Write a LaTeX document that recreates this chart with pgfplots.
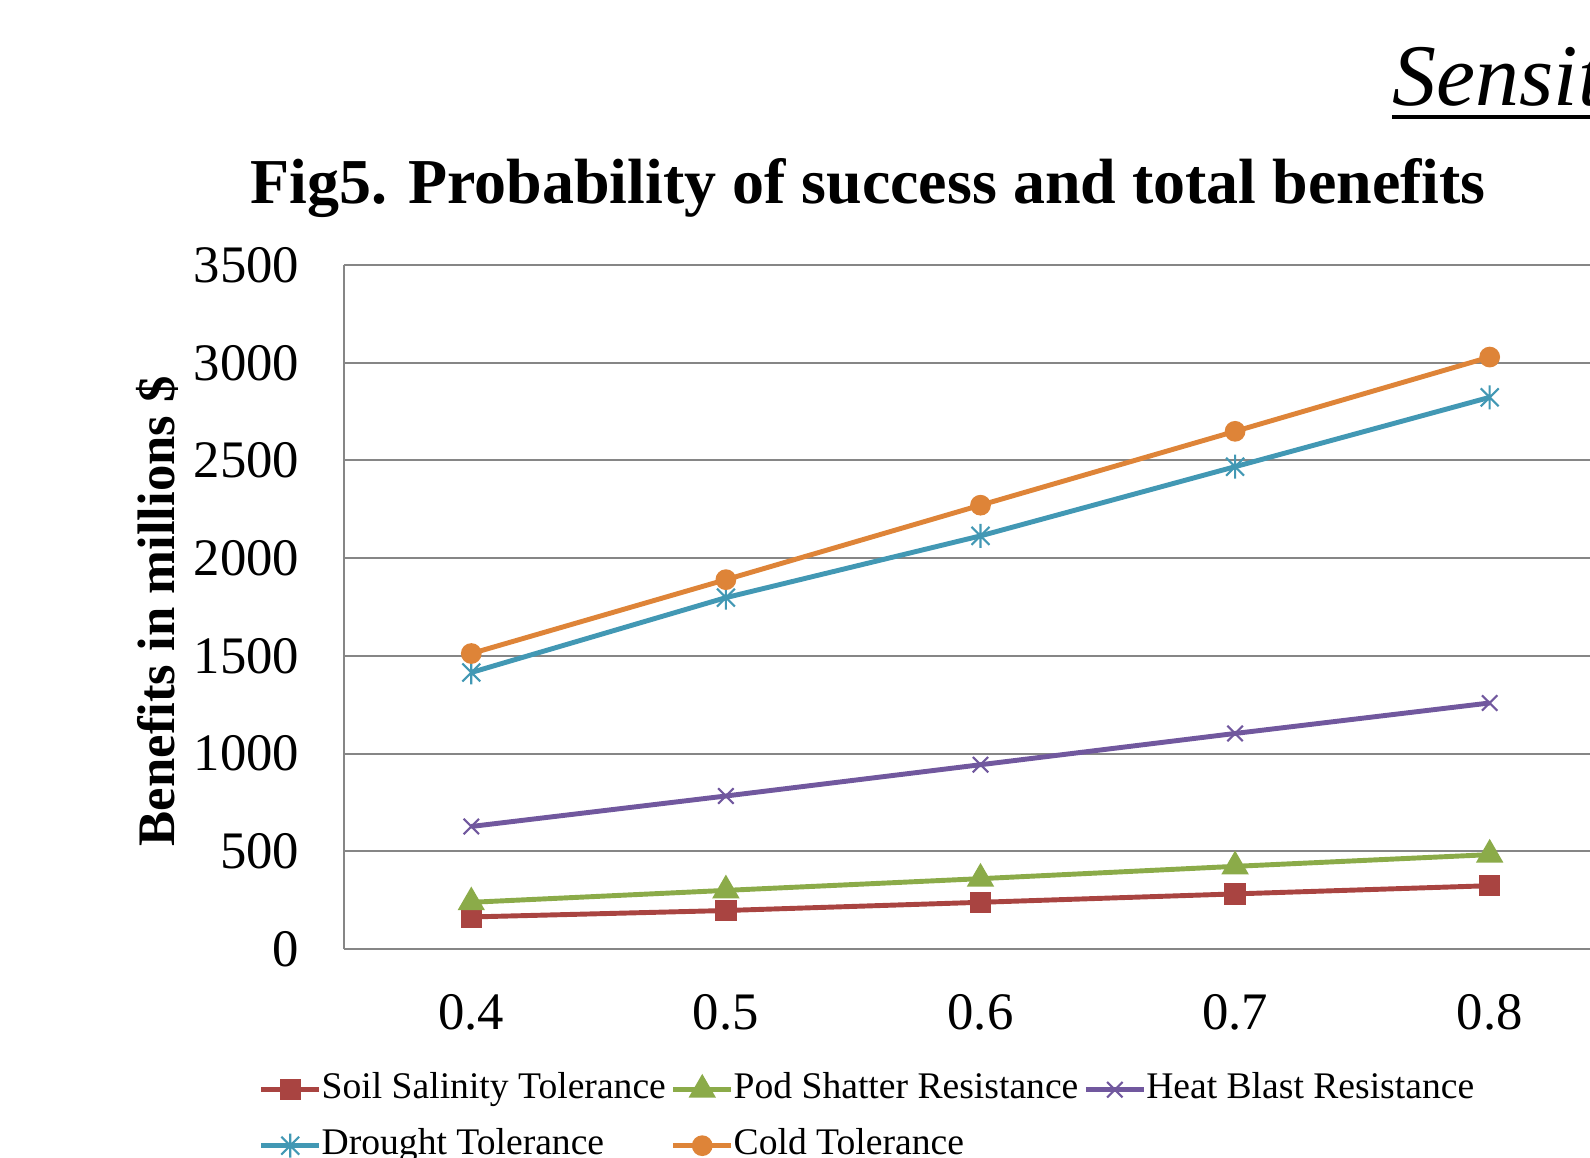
\documentclass[border=0pt]{standalone}
\usepackage{fontspec}
\setmainfont{Liberation Serif}
\usepackage{pgfplots}
\pgfplotsset{compat=1.18}
\definecolor{soil}{RGB}{169,68,65}
\definecolor{pod}{RGB}{139,171,73}
\definecolor{heat}{RGB}{113,88,158}
\definecolor{drought}{RGB}{66,152,180}
\definecolor{cold}{RGB}{222,132,56}
\definecolor{gridc}{RGB}{134,134,134}
\pgfdeclareplotmark{xstar}{%
  \pgfpathmoveto{\pgfqpoint{0pt}{\pgfplotmarksize}}%
  \pgfpathlineto{\pgfqpoint{0pt}{-\pgfplotmarksize}}%
  \pgfpathmoveto{\pgfqpoint{-0.75\pgfplotmarksize}{0.75\pgfplotmarksize}}%
  \pgfpathlineto{\pgfqpoint{0.75\pgfplotmarksize}{-0.75\pgfplotmarksize}}%
  \pgfpathmoveto{\pgfqpoint{-0.75\pgfplotmarksize}{-0.75\pgfplotmarksize}}%
  \pgfpathlineto{\pgfqpoint{0.75\pgfplotmarksize}{0.75\pgfplotmarksize}}%
  \pgfusepathqstroke}
\begin{document}
\begin{tikzpicture}[x=1cm,y=1cm]
\path[use as bounding box] (0cm,0cm) rectangle (15.9cm,-11.57cm);
\clip (0cm,0cm) rectangle (15.9cm,-11.57cm);
\node[anchor=base] at (8.68cm,-2.03cm) {\bfseries\fontsize{18.2}{22}\selectfont Fig5. Probability of success and total benefits};
\node[anchor=base west, inner sep=0] at (13.92cm,-1.05cm) {\itshape\fontsize{25}{30}\selectfont Sensitivity Analysis};
\draw[line width=0.04cm] (13.92cm,-1.17cm) -- (16.5cm,-1.17cm);
\begin{axis}[
  at={(3.44cm,-9.49cm)}, anchor=south west,
  scale only axis, width=12.73cm, height=6.84cm,
  xmin=0.35, xmax=0.85, ymin=0, ymax=3500,
  xtick={0.4,0.5,0.6,0.7,0.8},
  xticklabels={0.4,0.5,0.6,0.7,0.8},
  ytick={0,500,...,3500},
  /pgf/number format/assume math mode=true,
  /pgf/number format/1000 sep={},
  axis x line*=bottom, axis y line*=left,
  axis line style={gridc, line width=0.6pt},
  major tick length=0pt,
  ymajorgrids, grid style={gridc, line width=0.6pt},
  yticklabel style={font=\fontsize{15}{18}\selectfont, anchor=east, inner sep=0pt, xshift=-0.44cm},
  xticklabel style={font=\fontsize{15}{18}\selectfont, anchor=north, inner sep=0pt, yshift=-0.45cm},
  ylabel={Benefits in millions \$},
  ylabel style={font=\bfseries\fontsize{15}{18}\selectfont, at={(axis description cs:-0.1328,0.494)}, anchor=base, rotate=0},
  legend columns=3, legend cell align=left,
  legend style={draw=none, fill=none, at={(axis description cs:-0.0675,-0.1798)}, anchor=north west,
    inner sep=0pt, font=\fontsize{10.7}{12}\selectfont,
    nodes={inner xsep=0pt, inner ysep=0pt, text height=0.26cm, text depth=0.08cm},
    /tikz/row sep=0.22cm,
    /tikz/every even column/.append style={column sep=0.05cm}},
  legend image code/.code={\draw[mark repeat=2,mark phase=2,#1] plot coordinates {(0cm,0cm) (0.29cm,0cm) (0.58cm,0cm)};},
  every axis plot/.append style={line width=1.4pt},
  clip=false
]
\addplot[soil, mark=square*, mark size=2.8pt, mark options={solid, line width=0.5pt}] coordinates {(0.4,164) (0.5,197) (0.6,239) (0.7,282) (0.8,324)};
\addlegendentry{Soil Salinity Tolerance}
\addplot[pod, mark=triangle*, mark size=4pt, mark options={solid, line width=0.5pt}] coordinates {(0.4,239) (0.5,300) (0.6,360) (0.7,423) (0.8,483)};
\addlegendentry{Pod Shatter Resistance}
\addplot[heat, mark=x, mark size=3.1pt, mark options={solid, line width=0.6pt}] coordinates {(0.4,627) (0.5,783) (0.6,943) (0.7,1103) (0.8,1259)};
\addlegendentry{Heat Blast Resistance}
\addplot[drought, mark=xstar, mark size=3.4pt, mark options={solid, line width=0.6pt}] coordinates {(0.4,1415) (0.5,1798) (0.6,2114) (0.7,2468) (0.8,2823)};
\addlegendentry{Drought Tolerance}
\addplot[cold, mark=*, mark size=2.7pt, mark options={solid, line width=0.5pt}] coordinates {(0.4,1512) (0.5,1890) (0.6,2271) (0.7,2649) (0.8,3029)};
\addlegendentry{Cold Tolerance}
\end{axis}
\end{tikzpicture}
\end{document}
